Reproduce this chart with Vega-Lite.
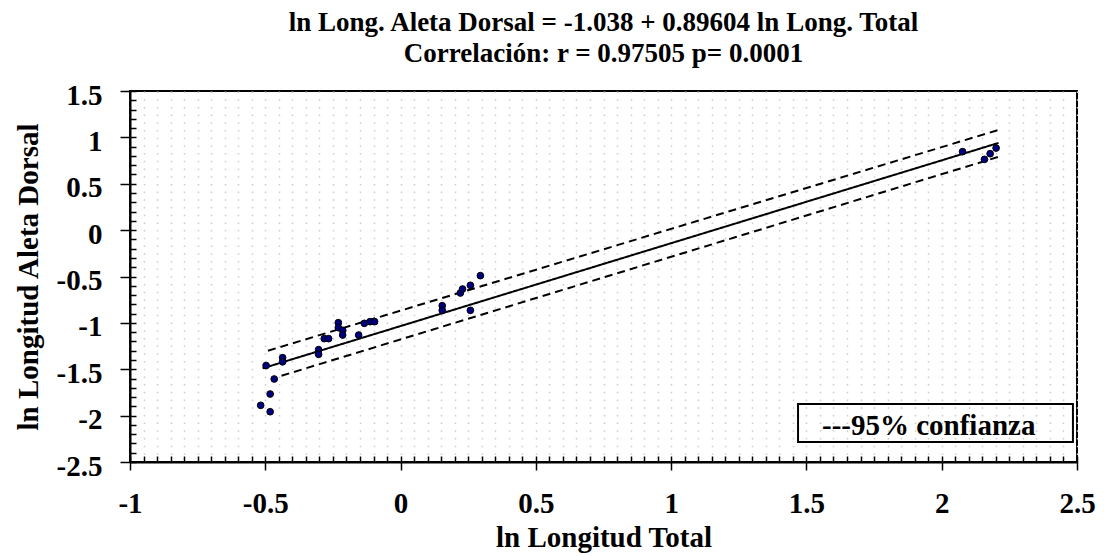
{
  "$schema": "https://vega.github.io/schema/vega-lite/v6.json",
  "width": 947,
  "height": 371,
  "autosize": {"type": "none"},
  "padding": {"left": 130, "top": 91, "right": 27, "bottom": 94},
  "background": "white",
  "title": {
    "text": ["ln Long. Aleta Dorsal = -1.038 + 0.89604 ln Long. Total", "Correlación: r = 0.97505 p= 0.0001"],
    "font": "Liberation Serif",
    "fontSize": 27,
    "fontWeight": "bold",
    "color": "black",
    "lineHeight": 31,
    "offset": 13,
    "anchor": "middle"
  },
  "config": {
    "font": "Liberation Serif",
    "view": {"stroke": "black", "strokeWidth": 2}
  },
  "datasets": {
    "puntos": [
      {"x": -0.497, "y": -1.46},
      {"x": -0.436, "y": -1.375},
      {"x": -0.436, "y": -1.42},
      {"x": -0.467, "y": -1.605},
      {"x": -0.482, "y": -1.767},
      {"x": -0.517, "y": -1.889},
      {"x": -0.482, "y": -1.958},
      {"x": -0.303, "y": -1.289},
      {"x": -0.303, "y": -1.339},
      {"x": -0.282, "y": -1.17},
      {"x": -0.266, "y": -1.17},
      {"x": -0.23, "y": -0.998},
      {"x": -0.23, "y": -1.052},
      {"x": -0.214, "y": -1.08},
      {"x": -0.214, "y": -1.131},
      {"x": -0.155, "y": -1.131},
      {"x": -0.134, "y": -1.005},
      {"x": -0.113, "y": -0.987},
      {"x": -0.096, "y": -0.987},
      {"x": 0.154, "y": -0.815},
      {"x": 0.154, "y": -0.865},
      {"x": 0.221, "y": -0.678},
      {"x": 0.229, "y": -0.635},
      {"x": 0.258, "y": -0.595},
      {"x": 0.258, "y": -0.865},
      {"x": 0.295, "y": -0.491},
      {"x": 2.077, "y": 0.846},
      {"x": 2.158, "y": 0.763},
      {"x": 2.179, "y": 0.824},
      {"x": 2.201, "y": 0.885}
    ],
    "lineas": [
      {"linea": "ajuste", "tipo": "ajuste", "x": -0.51, "y": -1.49},
      {"linea": "ajuste", "tipo": "ajuste", "x": 2.21, "y": 0.94},
      {"linea": "superior", "tipo": "confianza", "x": -0.49, "y": -1.3},
      {"linea": "superior", "tipo": "confianza", "x": 2.21, "y": 1.08},
      {"linea": "inferior", "tipo": "confianza", "x": -0.44, "y": -1.57},
      {"linea": "inferior", "tipo": "confianza", "x": 2.21, "y": 0.79}
    ],
    "leyenda": [
      {"x1": 1.469, "x2": 2.485, "y1": -1.875, "y2": -2.284, "tx": 1.5575, "ty": -2.209, "texto": "---95% confianza"}
    ]
  },
  "resolve": {"axis": {"x": "independent", "y": "independent"}},
  "layer": [
    {
      "data": {"name": "lineas"},
      "mark": {"type": "line", "color": "black", "strokeWidth": 2},
      "encoding": {
        "x": {
          "field": "x", "type": "quantitative",
          "scale": {"domain": [-1, 2.5], "nice": false, "zero": false},
          "axis": {
            "orient": "bottom", "tickCount": 70, "labels": false, "domain": false, "title": null,
            "ticks": true, "tickSize": -6, "tickColor": "black", "tickWidth": 1.5,
            "grid": true, "gridColor": "#cccccc", "gridWidth": 1.5, "gridDash": [1.5, 6.2]
          }
        },
        "y": {
          "field": "y", "type": "quantitative",
          "scale": {"domain": [-2.5, 1.5], "nice": false, "zero": false},
          "axis": {
            "orient": "left", "tickCount": 40, "labels": false, "domain": false, "title": null,
            "ticks": true, "tickSize": -6, "tickColor": "black", "tickWidth": 1.5, "grid": false
          }
        },
        "detail": {"field": "linea"},
        "strokeDash": {
          "field": "tipo", "type": "nominal",
          "scale": {"domain": ["ajuste", "confianza"], "range": [[1, 0], [8, 5]]},
          "legend": null
        }
      }
    },
    {
      "data": {"name": "puntos"},
      "mark": {"type": "circle", "size": 45, "fill": "#000080", "stroke": "black", "strokeWidth": 1, "opacity": 1},
      "encoding": {
        "x": {
          "field": "x", "type": "quantitative",
          "scale": {"domain": [-1, 2.5], "nice": false, "zero": false},
          "axis": {
            "orient": "bottom", "values": [-1, -0.5, 0, 0.5, 1, 1.5, 2, 2.5],
            "labelExpr": "'' + datum.value",
            "grid": false, "domainColor": "black", "domainWidth": 2,
            "tickSize": 8, "tickColor": "black", "tickWidth": 1.5,
            "labelFont": "Liberation Serif", "labelFontSize": 29, "labelFontWeight": "bold", "labelColor": "black",
            "labelPadding": 19, "labelFlush": false, "labelOverlap": false,
            "title": "ln Longitud Total", "titleFont": "Liberation Serif", "titleFontSize": 29,
            "titleFontWeight": "bold", "titleColor": "black", "titlePadding": 5
          }
        },
        "y": {
          "field": "y", "type": "quantitative",
          "scale": {"domain": [-2.5, 1.5], "nice": false, "zero": false},
          "axis": {
            "orient": "left", "values": [-2.5, -2, -1.5, -1, -0.5, 0, 0.5, 1, 1.5],
            "labelExpr": "'' + datum.value",
            "grid": false, "domainColor": "black", "domainWidth": 2,
            "tickSize": 10, "tickColor": "black", "tickWidth": 1.5,
            "labelFont": "Liberation Serif", "labelFontSize": 29, "labelFontWeight": "bold", "labelColor": "black",
            "labelPadding": 18, "labelOffset": 4, "labelFlush": false, "labelOverlap": false,
            "title": "ln Longitud Aleta Dorsal", "titleFont": "Liberation Serif", "titleFontSize": 29,
            "titleFontWeight": "bold", "titleColor": "black", "titlePadding": 13
          }
        }
      }
    },
    {
      "data": {"name": "leyenda"},
      "mark": {"type": "rect", "fillOpacity": 0, "stroke": "black", "strokeWidth": 2},
      "encoding": {
        "x": {"field": "x1", "type": "quantitative", "scale": {"domain": [-1, 2.5], "nice": false, "zero": false}, "axis": null},
        "x2": {"field": "x2"},
        "y": {"field": "y1", "type": "quantitative", "scale": {"domain": [-2.5, 1.5], "nice": false, "zero": false}, "axis": null},
        "y2": {"field": "y2"}
      }
    },
    {
      "data": {"name": "leyenda"},
      "mark": {"type": "text", "align": "left", "baseline": "alphabetic", "font": "Liberation Serif", "fontSize": 29, "fontWeight": "bold", "color": "black"},
      "encoding": {
        "x": {"field": "tx", "type": "quantitative", "scale": {"domain": [-1, 2.5], "nice": false, "zero": false}, "axis": null},
        "y": {"field": "ty", "type": "quantitative", "scale": {"domain": [-2.5, 1.5], "nice": false, "zero": false}, "axis": null},
        "text": {"field": "texto"}
      }
    }
  ]
}
